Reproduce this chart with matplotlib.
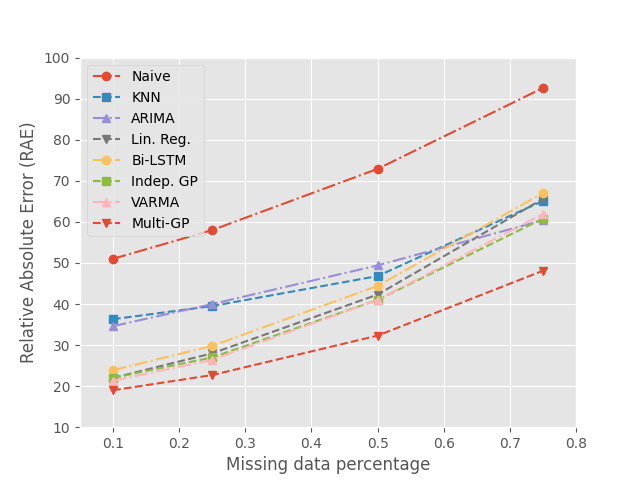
import matplotlib
matplotlib.use("Agg")
import matplotlib.pyplot as plt

plt.style.use('ggplot')

# missing data fraction
x = [0.1, 0.25, 0.5, 0.75]

naive = [51.0, 58.0, 72.9, 92.6]
knn = [36.3, 39.5, 46.8, 65.1]
arima = [34.6, 40.0, 49.4, 60.4]
linreg = [22.0, 28.0, 42.3, 65.6]
bilstm = [23.9, 29.8, 44.4, 67.0]
indep_gp = [22.0, 27.0, 41.0, 60.8]
varma = [21.3, 26.4, 41.0, 61.9]
multi_gp = [19.0, 22.7, 32.3, 48.1]

names = ['Naive', 'KNN', 'ARIMA', 'Lin. Reg.', 'Bi-LSTM', 'Indep. GP', 'VARMA', 'Multi-GP']
series = [naive, knn, arima, linreg, bilstm, indep_gp, varma, multi_gp]
markers = ['o', 's', '^', 'v', 'o', 's', '^', 'v']
styles = ['-.', '--', '-.', '--', '-.', '--', '-.', '--']

fig, ax = plt.subplots(figsize=(6.4, 4.8), dpi=100)
for y, lab, m, ls in zip(series, names, markers, styles):
    ax.plot(x, y, linestyle=ls, marker=m, label=lab)

ax.set_xlim(0.05, 0.8)
ax.set_ylim(10, 100)
ax.set_xlabel('Missing data percentage')
ax.set_ylabel('Relative Absolute Error (RAE)')
ax.legend(loc='upper left')

fig.savefig('out.png', dpi=100)
